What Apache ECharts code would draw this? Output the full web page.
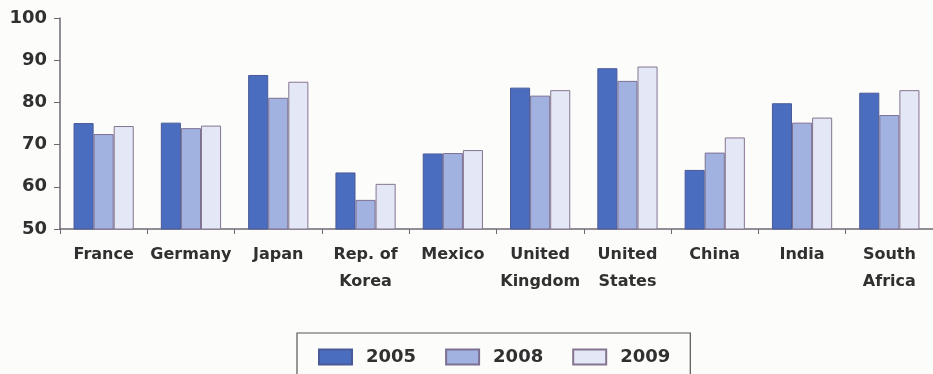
<!DOCTYPE html>
<html>
<head>
<meta charset="utf-8">
<script src="https://cdn.jsdelivr.net/npm/echarts@6/dist/echarts.min.js"></script>
<style>
  html, body { margin: 0; padding: 0; background: #fcfcfa; }
  #chart { width: 933px; height: 374px; }
</style>
</head>
<body>
<div id="chart"></div>
<script>
// Countries along the x axis
const countries = ['France', 'Germany', 'Japan', 'Rep. of\nKorea', 'Mexico',
  'United\nKingdom', 'United\nStates', 'China', 'India', 'South\nAfrica'];

// Values per year
const values2005 = [75.1, 75.2, 86.5, 63.4, 67.9, 83.5, 88.1, 64.0, 79.8, 82.3];
const values2008 = [72.5, 73.9, 81.1, 56.9, 68.0, 81.6, 85.1, 68.1, 75.2, 77.0];
const values2009 = [74.4, 74.5, 84.9, 60.7, 68.7, 82.9, 88.5, 71.7, 76.4, 82.9];

const years = ['2005', '2008', '2009'];
const yTicks = [50, 60, 70, 80, 90, 100];

const fontFamily = '"DejaVu Sans", sans-serif';
const textColor = '#303030';
const axisColor = '#6f6874';

const seriesStyle = [
  { color: '#4b6dbf', borderColor: '#4a5a98' },
  { color: '#a2b2e0', borderColor: '#7c7092' },
  { color: '#e3e7f6', borderColor: '#857590' }
];
const seriesData = [values2005, values2008, values2009];

const chart = echarts.init(document.getElementById('chart'));
chart.setOption({
  backgroundColor: '#fcfcfa',
  animation: false,
  grid: { left: 60, right: -2, top: 18, bottom: 145, containLabel: false },
  legend: {
    data: years.map(name => ({ name, icon: 'rect' })),
    left: 297,
    top: 333,
    orient: 'horizontal',
    itemWidth: 33,
    itemHeight: 15,
    itemGap: 29,
    padding: [15, 20, 15, 21],
    borderColor: '#555',
    borderWidth: 1.2,
    textStyle: { fontFamily, fontWeight: 'bold', fontSize: 18, color: textColor, padding: [0, 0, 0, 9] }
  },
  xAxis: {
    type: 'category',
    data: countries,
    axisLine: { lineStyle: { color: axisColor, width: 1.5 } },
    axisTick: { show: true, length: 5, inside: false, lineStyle: { color: axisColor } },
    axisLabel: {
      interval: 0,
      margin: 12,
      fontFamily,
      fontWeight: 'bold',
      fontSize: 16,
      lineHeight: 27,
      color: textColor,
      verticalAlign: 'top'
    }
  },
  yAxis: {
    type: 'value',
    min: yTicks[0],
    max: yTicks[yTicks.length - 1],
    interval: 10,
    splitLine: { show: false },
    axisLine: { show: true, lineStyle: { color: axisColor, width: 1.5 } },
    axisTick: { show: true, length: 6, lineStyle: { color: axisColor } },
    axisLabel: {
      margin: 13,
      fontFamily,
      fontWeight: 'bold',
      fontSize: 18,
      color: textColor
    }
  },
  series: years.map((y, i) => ({
    name: y,
    type: 'bar',
    data: seriesData[i],
    barGap: '0%',
    barCategoryGap: '31%',
    itemStyle: {
      color: seriesStyle[i].color,
      borderColor: seriesStyle[i].borderColor,
      borderWidth: 1
    }
  }))
});
</script>
</body>
</html>
